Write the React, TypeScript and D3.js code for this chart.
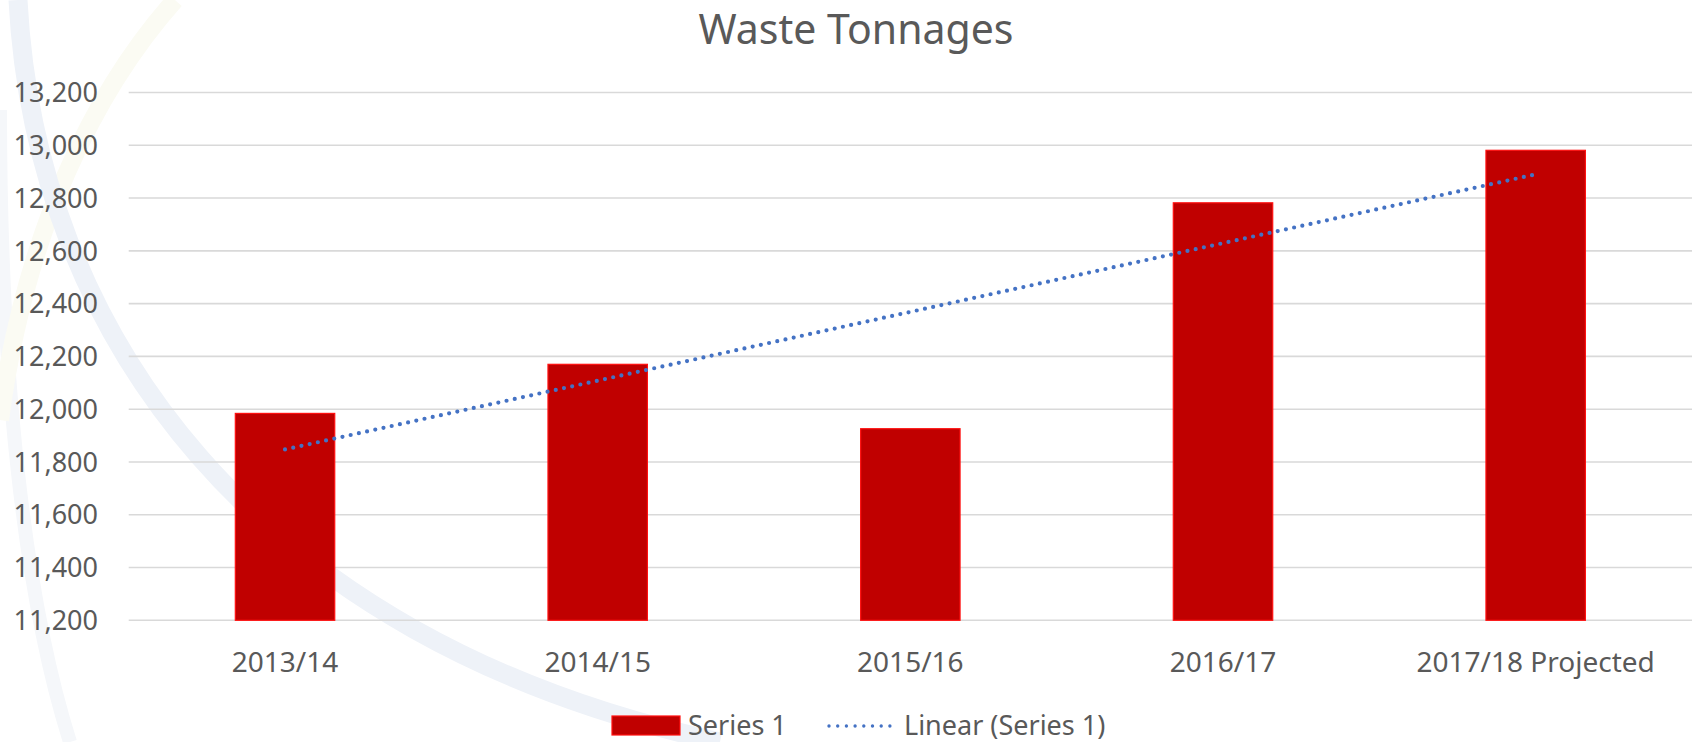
import React, { useEffect, useRef } from 'react';
import * as d3 from 'd3';

const categories = ['2013/14', '2014/15', '2015/16', '2016/17', '2017/18 Projected'];
const tonnages = [11984, 12170, 11926, 12782, 12981];
const yTicks = [11200, 11400, 11600, 11800, 12000, 12200, 12400, 12600, 12800, 13000, 13200];

const W = 1696;
const H = 742;
const FONT = '"Noto Sans", "Open Sans", sans-serif';
const TEXT = '#595959';

const App: React.FC = () => {
  const svgRef = useRef<SVGSVGElement>(null);

  useEffect(() => {
    document.body.style.margin = '0';
    if (!svgRef.current) return;
    const svg = d3.select(svgRef.current);
    svg.selectAll('*').remove();

    const margin = { top: 92.5, right: 4, bottom: 121.7, left: 128.7 };

    // faint background swooshes
    const bg = svg.append('g').attr('fill', 'none');
    bg.append('path')
      .attr('d', 'M 0 110 C 0 380, 25 600, 70 742')
      .attr('stroke', '#F5F7FA').attr('stroke-width', 14);
    bg.append('path')
      .attr('d', 'M 175 0 C 95 90, 25 230, 0 420')
      .attr('stroke', '#FBFBF3').attr('stroke-width', 18);
    bg.append('path')
      .attr('d', 'M 18 0 C 35 330, 250 640, 720 742')
      .attr('stroke', '#EEF2F8').attr('stroke-width', 19);

    const x = d3.scaleBand<string>()
      .domain(categories)
      .range([margin.left, W - margin.right])
      .paddingInner(0.682)
      .paddingOuter(0.341);

    const y = d3.scaleLinear()
      .domain([11200, 13200])
      .range([H - margin.bottom, margin.top]);

    // gridlines
    svg.append('g')
      .selectAll('line')
      .data(yTicks)
      .join('line')
      .attr('x1', margin.left)
      .attr('x2', W - margin.right)
      .attr('y1', d => y(d))
      .attr('y2', d => y(d))
      .attr('stroke', '#D9D9D9')
      .attr('stroke-width', 1.6);

    // y labels
    const fmt = d3.format(',');
    svg.append('g')
      .selectAll('text')
      .data(yTicks)
      .join('text')
      .attr('x', 98)
      .attr('y', d => y(d))
      .attr('dy', '0.36em')
      .attr('text-anchor', 'end')
      .attr('font-family', FONT)
      .attr('font-size', 27)
      .attr('fill', TEXT)
      .text(d => fmt(d));

    // bars
    svg.append('g')
      .selectAll('rect')
      .data(tonnages)
      .join('rect')
      .attr('x', (_, i) => x(categories[i])!)
      .attr('y', d => y(d))
      .attr('width', x.bandwidth())
      .attr('height', d => y(11200) - y(d))
      .attr('fill', '#C00000')
      .attr('stroke', '#FF1010')
      .attr('stroke-width', 1.2);

    // x labels
    svg.append('g')
      .selectAll('text')
      .data(categories)
      .join('text')
      .attr('x', d => x(d)! + x.bandwidth() / 2)
      .attr('y', 672)
      .attr('text-anchor', 'middle')
      .attr('font-family', FONT)
      .attr('font-size', 28)
      .attr('fill', TEXT)
      .text(d => d);

    // linear trendline (least squares over category index)
    const n = tonnages.length;
    const xs = d3.range(n);
    const mx = d3.mean(xs)!;
    const my = d3.mean(tonnages)!;
    const slope = d3.sum(xs, i => (i - mx) * (tonnages[i] - my)) / d3.sum(xs, i => (i - mx) ** 2);
    const icpt = my - slope * mx;
    const trend: [number, number][] = [0, n - 1].map(i => [
      x(categories[i])! + x.bandwidth() / 2,
      y(icpt + slope * i),
    ]);
    svg.append('path')
      .datum(trend)
      .attr('d', d3.line())
      .attr('fill', 'none')
      .attr('stroke', '#4472C4')
      .attr('stroke-width', 4.2)
      .attr('stroke-linecap', 'round')
      .attr('stroke-dasharray', '0 8.4');

    // title
    svg.append('text')
      .attr('x', 856)
      .attr('y', 44)
      .attr('text-anchor', 'middle')
      .attr('font-family', FONT)
      .attr('font-size', 41)
      .attr('fill', TEXT)
      .text('Waste Tonnages');

    // legend
    const lg = svg.append('g');
    lg.append('rect')
      .attr('x', 612).attr('y', 716).attr('width', 68).attr('height', 19)
      .attr('fill', '#C00000').attr('stroke', '#FF1010').attr('stroke-width', 1.2);
    lg.append('text')
      .attr('x', 688).attr('y', 735)
      .attr('font-family', FONT).attr('font-size', 27).attr('fill', TEXT)
      .text('Series 1');
    lg.append('line')
      .attr('x1', 829).attr('x2', 890).attr('y1', 726).attr('y2', 726)
      .attr('stroke', '#4472C4').attr('stroke-width', 3.4)
      .attr('stroke-linecap', 'round').attr('stroke-dasharray', '0 8.7');
    lg.append('text')
      .attr('x', 904).attr('y', 735)
      .attr('font-family', FONT).attr('font-size', 27).attr('fill', TEXT)
      .text('Linear (Series 1)');
  }, []);

  return <svg ref={svgRef} width={W} height={H} style={{ display: 'block', background: '#fff' }} />;
};

export default App;
